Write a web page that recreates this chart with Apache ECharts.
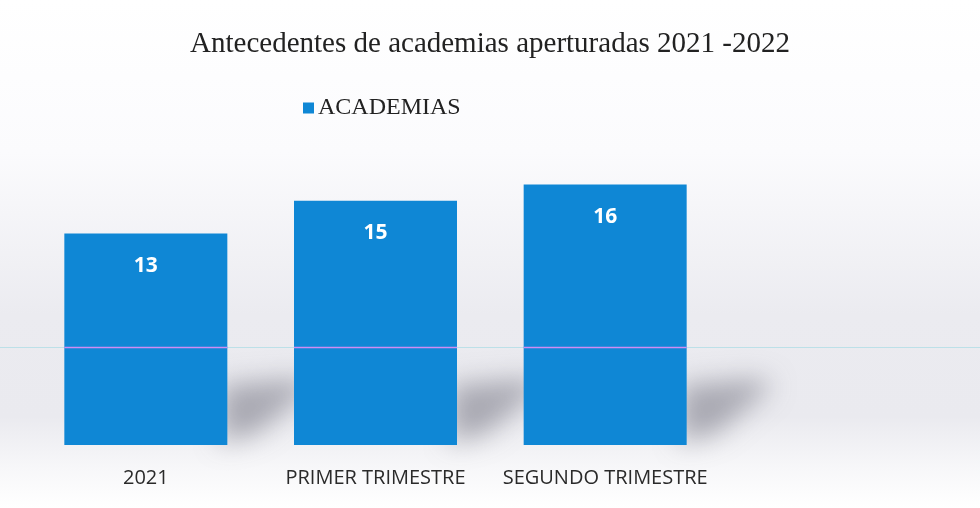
<!DOCTYPE html>
<html>
<head>
<meta charset="utf-8">
<script src="https://cdn.jsdelivr.net/npm/echarts@6/dist/echarts.min.js"></script>
<style>
  html, body { margin: 0; padding: 0; background: #ffffff; }
  #chart { width: 980px; height: 508px; }
</style>
</head>
<body>
<div id="chart"></div>
<script>
// Academias aperturadas por periodo
const categories = ['2021', 'PRIMER TRIMESTRE', 'SEGUNDO TRIMESTRE'];
const academias = [13, 15, 16];
const seriesName = 'ACADEMIAS';
const titleText = 'Antecedentes de academias aperturadas 2021 -2022';

const chart = echarts.init(document.getElementById('chart'));

const barColor = '#0f87d5';
const barWidth = 163;
const shadowShift = 2000; // shape drawn off-canvas, only its blurred shadow lands in view

chart.setOption({
  backgroundColor: {
    type: 'linear', x: 0, y: 0, x2: 0, y2: 1,
    colorStops: [
      { offset: 0, color: '#ffffff' },
      { offset: 0.3, color: '#fbfbfd' },
      { offset: 0.62, color: '#ebebf0' },
      { offset: 0.82, color: '#eaeaef' },
      { offset: 0.92, color: '#f7f7f9' },
      { offset: 1, color: '#ffffff' }
    ]
  },
  title: {
    text: titleText,
    left: 'center',
    top: 25,
    textStyle: {
      fontFamily: 'Liberation Serif',
      fontSize: 29,
      fontWeight: 'normal',
      color: '#222222'
    }
  },
  legend: {
    data: [seriesName],
    left: 298,
    top: 91,
    icon: 'rect',
    itemWidth: 11,
    itemHeight: 11,
    itemGap: 4,
    textStyle: {
      fontFamily: 'Liberation Serif',
      fontSize: 24,
      color: '#222222',
      padding: [0, 0, 0, -1]
    }
  },
  grid: { left: 31, right: 260, top: 152, bottom: 63 },
  xAxis: {
    type: 'category',
    data: categories,
    axisLine: { show: false },
    axisTick: { show: false },
    axisLabel: {
      interval: 0,
      margin: 23,
      fontFamily: 'Open Sans',
      fontSize: 20,
      color: '#2a2a2a'
    }
  },
  yAxis: {
    type: 'value',
    min: 0,
    max: 18,
    show: false,
    splitLine: { show: false }
  },
  series: [
    {
      // soft floor shadows cast to the right of each bar
      type: 'custom',
      silent: true,
      z: 1,
      data: academias.map((v, i) => [i, v]),
      renderItem: function (params, api) {
        const base = api.coord([api.value(0), 0]);
        const rx = base[0] + barWidth / 2 - shadowShift;
        const by = base[1];
        return {
          type: 'polygon',
          shape: {
            points: [
              [rx - 6, by - 60],
              [rx + 70, by - 66],
              [rx + 86, by - 60],
              [rx + 30, by - 12],
              [rx - 6, by - 2]
            ]
          },
          style: {
            fill: '#70707e',
            shadowBlur: 26,
            shadowOffsetX: shadowShift,
            shadowColor: 'rgba(105,105,120,0.5)'
          }
        };
      }
    },
    {
      name: seriesName,
      type: 'bar',
      z: 2,
      data: academias,
      barWidth: barWidth,
      itemStyle: { color: barColor },
      label: {
        show: true,
        position: 'insideTop',
        distance: 22,
        fontFamily: 'Open Sans',
        fontWeight: 'bold',
        fontSize: 21,
        color: '#ffffff'
      }
    }
  ]
});

// faint horizontal streak across the page, pink where it crosses the bars
const streakY = 347.5;
const streaks = [{
  type: 'line',
  z: 0,
  silent: true,
  shape: { x1: 0, y1: streakY, x2: 980, y2: streakY },
  style: { stroke: 'rgba(150,215,225,0.55)', lineWidth: 1 }
}];
categories.forEach(function (c, i) {
  const cx = chart.convertToPixel({ xAxisIndex: 0 }, i);
  streaks.push({
    type: 'line',
    z: 100,
    silent: true,
    shape: { x1: cx - barWidth / 2, y1: streakY, x2: cx + barWidth / 2, y2: streakY },
    style: { stroke: '#d08cf2', lineWidth: 1.3 }
  });
});
chart.setOption({ graphic: streaks });
</script>
</body>
</html>
